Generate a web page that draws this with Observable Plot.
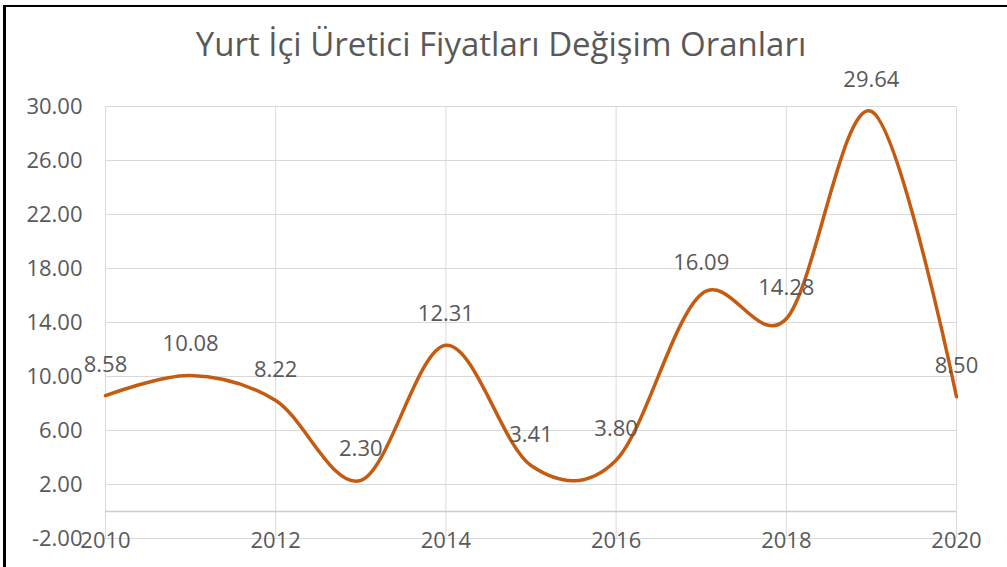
<!DOCTYPE html>
<html>
<head>
<meta charset="utf-8">
<script src="https://cdn.jsdelivr.net/npm/d3@7"></script>
<script src="https://cdn.jsdelivr.net/npm/@observablehq/plot@0.6"></script>
<style>
  html, body { margin: 0; padding: 0; background: #fff; overflow: hidden; }
  #wrap { position: relative; width: 1007px; height: 567px; }
  #frame { position: absolute; left: 3px; top: 5px; width: 1100px; height: 700px;
           border-left: 3px solid #000; border-top: 2px solid #000;
           box-shadow: 1px 1px 2px rgba(0,0,0,0.25); pointer-events: none; }
  #chart { position: absolute; left: 0; top: 0; }
</style>
</head>
<body>
<div id="wrap"><div id="chart"></div><div id="frame"></div></div>
<script>
const title = "Yurt İçi Üretici Fiyatları Değişim Oranları";
const years = [2010, 2011, 2012, 2013, 2014, 2015, 2016, 2017, 2018, 2019, 2020];
const values = [8.58, 10.08, 8.22, 2.30, 12.31, 3.41, 3.80, 16.09, 14.28, 29.64, 8.50];
const yTicks = [-2, 2, 6, 10, 14, 18, 22, 26, 30];
const xTicks = [2010, 2012, 2014, 2016, 2018, 2020];

const data = years.map((year, i) => ({year, value: values[i]}));
const textColor = "#595959";
const font = "Open Sans";
const fs = 22;

const chart = Plot.plot({
  width: 1007,
  height: 567,
  marginLeft: 105,
  marginRight: 51,
  marginTop: 106,
  marginBottom: 29,
  style: {fontFamily: font, fontSize: fs + "px", color: textColor, background: "transparent", overflow: "visible"},
  x: {domain: [2010, 2020], axis: null},
  y: {domain: [-2, 30], axis: null},
  marks: [
    Plot.ruleY(yTicks, {y: d => d, stroke: "#d9d9d9", strokeWidth: 1}),
    Plot.ruleX(xTicks, {x: d => d, y1: -2, y2: 30, stroke: "#d9d9d9", strokeWidth: 1}),
    Plot.ruleY([0], {y: d => d, stroke: "#cccccc", strokeWidth: 1.5}),
    Plot.line(data, {x: "year", y: "value", curve: "cardinal", stroke: "#C55A11", strokeWidth: 3.5}),
    Plot.text(data, {x: "year", y: "value", text: d => d.value.toFixed(2), dy: -31, lineAnchor: "middle", fill: textColor, fontSize: fs}),
    Plot.axisY({ticks: yTicks, tickSize: 0, tickPadding: 23, tickFormat: d => d.toFixed(2), fill: textColor, fontSize: fs, label: null}),
    Plot.text(xTicks, {x: d => d, y: -2, text: d => String(d), dy: 2, lineAnchor: "middle", fill: textColor, fontSize: fs}),
    Plot.text([title], {frameAnchor: "top", text: d => d, dx: -30, dy: -51, lineAnchor: "bottom", fill: textColor, fontSize: 33})
  ]
});
document.getElementById("chart").appendChild(chart);
</script>
</body>
</html>
